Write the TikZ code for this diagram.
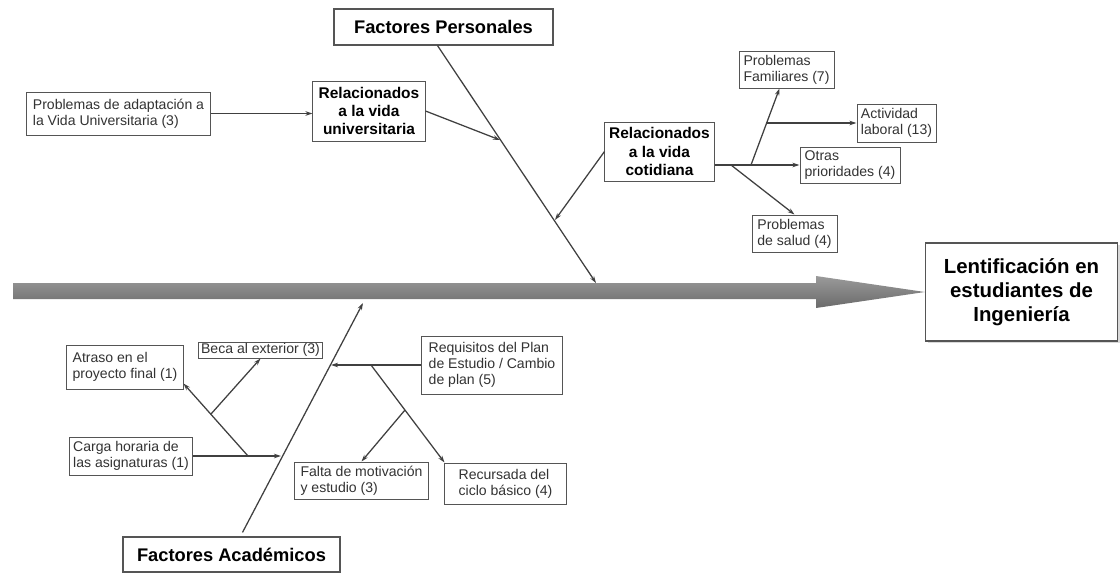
\documentclass[tikz,border=0pt]{standalone}
\usepackage{fontspec}
\setmainfont{Liberation Sans}
\usetikzlibrary{arrows.meta,calc,shadows}
\definecolor{boxgray}{HTML}{555555}
\definecolor{textgray}{HTML}{333333}
\definecolor{linegray}{HTML}{404040}
\definecolor{barlight}{HTML}{9A9A9A}
\definecolor{bardark}{HTML}{6A6A6A}
\begin{document}
\begin{tikzpicture}[
	x=0.025cm, y=-0.025cm,
	cause/.style={ draw=boxgray, line width=0.7pt, fill=white, align=left, inner sep=2pt, text=textgray, font=\fontsize{10}{11.3}\selectfont },
	group/.style={ draw=boxgray, line width=0.7pt, fill=white, align=center, inner sep=2pt, font=\bfseries\fontsize{11}{13}\selectfont },
	factor/.style={ draw=boxgray, line width=0.8pt, fill=white, inner sep=2pt, font=\bfseries\fontsize{13}{15}\selectfont },
	effect/.style={ draw=boxgray, line width=0.8pt, fill=white, align=center, font=\bfseries\fontsize{14.5}{17}\selectfont, drop shadow={opacity=0.3, shadow xshift=1.5pt, shadow yshift=-1.5pt} },
	bone/.style={ draw=linegray, line width=0.9pt, -{Stealth[length=5pt,width=3.2pt]} }
]
\useasboundingbox (0,0) rectangle (1120,573);

% upper half
\node at (443.5,27) (fp) [factor, minimum width=5.475cm, minimum height=0.9cm] {Factores Personales};
\node at (369,111) (ru) [group, minimum width=2.8cm, minimum height=1.5cm] {Relacionados\\a la vida\\universitaria};
\node at (118.5,113.5) (pa) [cause, minimum width=4.575cm, minimum height=1.075cm] {Problemas de adaptación a\\la Vida Universitaria (3)};
\node at (659.5,151.5) (rc) [group, minimum width=2.725cm, minimum height=1.475cm] {Relacionados\\a la vida\\cotidiana};
\node at (786.5,69.5) (pf) [cause, minimum width=2.375cm, minimum height=0.925cm] {Problemas\\Familiares (7)};
\node at (896.5,123) (al) [cause, minimum width=1.975cm, minimum height=0.95cm] {Actividad\\laboral (13)};
\node at (850,165) (op) [cause, minimum width=2.5cm, minimum height=0.9cm] {Otras\\prioridades (4)};
\node at (794.5,233.5) (ps) [cause, minimum width=2.125cm, minimum height=0.925cm] {Problemas\\de salud (4)};

% effect
\node at (1021.5,292) (le) [effect, minimum width=4.8cm, minimum height=2.45cm] {Lentificación en\\estudiantes de\\Ingeniería};

% lower half
\node at (231.5,554.5) (fa) [factor, minimum width=5.425cm, minimum height=0.875cm] {Factores Académicos};
\node at (125,367) (at) [cause, minimum width=2.9cm, minimum height=1.1cm] {Atraso en el\\proyecto final (1)};
\node at (260.5,350) (be) [cause, inner ysep=0.5pt, minimum width=3.075cm, minimum height=0.4cm] {Beca al exterior (3)};
\node at (131,456) (ch) [cause, minimum width=3.05cm, minimum height=0.95cm] {Carga horaria de\\las asignaturas (1)};
\node at (492,365) (rq) [cause, minimum width=3.5cm, minimum height=1.45cm] {Requisitos del Plan\\de Estudio / Cambio\\de plan (5)};
\node at (361.5,480.5) (fm) [cause, minimum width=3.325cm, minimum height=0.925cm] {Falta de motivación\\y estudio (3)};
\node at (505.5,483.5) (rb) [cause, minimum width=3.025cm, minimum height=1.025cm] {Recursada del\\ciclo básico (4)};

% main spine
\shade [top color=barlight, bottom color=bardark] (13,283) -- (816,283) -- (816,276) -- (le.west) -- (816,308) -- (816,299) -- (13,299) -- cycle;

% joints on the bones
\coordinate (tp) at (596,283);
\coordinate (ta) at (363,303);
\coordinate (ju) at (500,140);
\coordinate (jc) at (555,220);
\coordinate (jr) at (331,365);
\coordinate (jh) at (281,456);
\coordinate (kc) at (751,165);
\coordinate (kf) at (766,123);
\coordinate (ks) at (731,165);
\coordinate (kh) at (248,456);
\coordinate (kb) at (211,414);
\coordinate (kr) at (371,365);
\coordinate (km) at (405,410);

\draw [bone] ($(fp.south)+(-6,0)$) to (tp);
\draw [bone] (pa.east) to (pa.east -| ru.west);
\draw [bone] (ru.east) to (ju);
\draw [bone] (rc.west) to (jc);
\draw [bone] (rc.east |- op.west) to (op.west);
\draw [bone] (kc) to ($(pf.south)+(-7,0)$);
\draw [bone] (kf) to (kf -| al.west);
\draw [bone] (ks) to (ps.north);

\draw [bone] ($(fa.north)+(11,-4)$) to (ta);
\draw [bone] (ch.east) to (jh);
\draw [bone] (kh) to ($(at.south east)+(0,-6)$);
\draw [bone] (kb) to (be.south);
\draw [bone] (rq.west) to (jr);
\draw [bone] (kr) to (rb.north west);
\draw [bone] (km) to (fm.north);

\end{tikzpicture}
\end{document}
